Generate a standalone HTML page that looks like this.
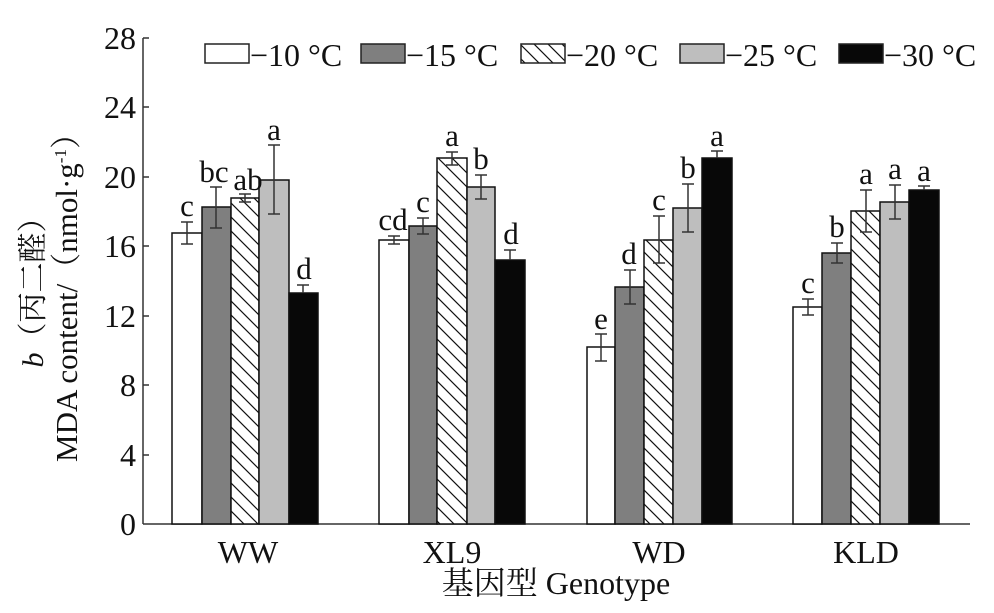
<!DOCTYPE html>
<html><head><meta charset="utf-8"><style>
body{margin:0;background:#fff}
text{font-family:"Liberation Serif","Noto Serif CJK SC",serif;fill:#111}
</style></head><body>
<svg width="994" height="608" viewBox="0 0 994 608" xmlns="http://www.w3.org/2000/svg">
<defs><pattern id="h" patternUnits="userSpaceOnUse" width="14" height="14">
<rect width="14" height="14" fill="#fff"/><path d="M0,0 L14,14 M-7,7 L7,21 M7,-7 L21,7" stroke="#111" stroke-width="1.2"/></pattern></defs>
<g stroke="#333" stroke-width="1.5">
<line x1="143" y1="38" x2="143" y2="524"/><line x1="143" y1="524" x2="970" y2="524"/>
<line x1="143" y1="38" x2="149" y2="38"/><line x1="143" y1="107" x2="149" y2="107"/><line x1="143" y1="177" x2="149" y2="177"/><line x1="143" y1="246" x2="149" y2="246"/><line x1="143" y1="316" x2="149" y2="316"/><line x1="143" y1="385" x2="149" y2="385"/><line x1="143" y1="455" x2="149" y2="455"/>
</g>
<g font-size="32" text-anchor="end">
<text x="136" y="49">28</text><text x="136" y="118">24</text><text x="136" y="188">20</text><text x="136" y="257">16</text><text x="136" y="327">12</text><text x="136" y="396">8</text><text x="136" y="466">4</text><text x="136" y="535">0</text>
</g>
<g stroke="#111" stroke-width="1.5">
<rect x="172" y="233" width="30" height="291" fill="#fff"/><rect x="202" y="207" width="29" height="317" fill="#7f7f7f"/><rect x="231" y="198" width="28" height="326" fill="url(#h)"/><rect x="259" y="180" width="30" height="344" fill="#bebebe"/><rect x="289" y="293" width="29" height="231" fill="#080808"/>
<rect x="379" y="240" width="30" height="284" fill="#fff"/><rect x="409" y="226" width="28" height="298" fill="#7f7f7f"/><rect x="437" y="158" width="30" height="366" fill="url(#h)"/><rect x="467" y="187" width="28" height="337" fill="#bebebe"/><rect x="495" y="260" width="30" height="264" fill="#080808"/>
<rect x="587" y="347" width="28" height="177" fill="#fff"/><rect x="615" y="287" width="29" height="237" fill="#7f7f7f"/><rect x="644" y="240" width="29" height="284" fill="url(#h)"/><rect x="673" y="208" width="29" height="316" fill="#bebebe"/><rect x="702" y="158" width="30" height="366" fill="#080808"/>
<rect x="793" y="307" width="29" height="217" fill="#fff"/><rect x="822" y="253" width="29" height="271" fill="#7f7f7f"/><rect x="851" y="211" width="29" height="313" fill="url(#h)"/><rect x="880" y="202" width="29" height="322" fill="#bebebe"/><rect x="909" y="190" width="30" height="334" fill="#080808"/>
</g>
<g stroke="#333" stroke-width="1.5" fill="none">
<path d="M187,222V244M181,222h12M181,244h12"/><path d="M216,187V228M210,187h12M210,228h12"/><path d="M245,194V202M239,194h12M239,202h12"/><path d="M274,145V214M268,145h12M268,214h12"/><path d="M303,285V293M297,285h12"/>
<path d="M394,236V244M388,236h12M388,244h12"/><path d="M423,218V234M417,218h12M417,234h12"/><path d="M452,152V165M446,152h12M446,165h12"/><path d="M481,175V199M475,175h12M475,199h12"/><path d="M510,250V260M504,250h12"/>
<path d="M601,334V361M595,334h12M595,361h12"/><path d="M630,270V304M624,270h12M624,304h12"/><path d="M659,216V263M653,216h12M653,263h12"/><path d="M688,184V232M682,184h12M682,232h12"/><path d="M717,151V158M711,151h12"/>
<path d="M808,299V315M802,299h12M802,315h12"/><path d="M837,243V263M831,243h12M831,263h12"/><path d="M866,190V232M860,190h12M860,232h12"/><path d="M895,185V219M889,185h12M889,219h12"/><path d="M924,186V190M918,186h12"/>
</g>
<g font-size="31" text-anchor="middle">
<text x="187" y="216">c</text><text x="214" y="182">bc</text><text x="248" y="190">ab</text><text x="274" y="140">a</text><text x="304" y="279">d</text>
<text x="393" y="230">cd</text><text x="423" y="212">c</text><text x="452" y="146">a</text><text x="481" y="169">b</text><text x="511" y="244">d</text>
<text x="601" y="329">e</text><text x="629" y="264">d</text><text x="659" y="210">c</text><text x="688" y="178">b</text><text x="717" y="146">a</text>
<text x="808" y="293">c</text><text x="837" y="237">b</text><text x="866" y="184">a</text><text x="895" y="179">a</text><text x="924" y="181">a</text>
</g>
<g font-size="32" text-anchor="middle">
<text x="248" y="563">WW</text><text x="452" y="563">XL9</text><text x="659" y="563">WD</text><text x="866" y="563">KLD</text>
<text x="556" y="594">基因型 Genotype</text>
</g>
<g stroke="#222" stroke-width="1.5">
<rect x="205" y="44" width="44" height="19" fill="#fff"/><rect x="361" y="44" width="44" height="19" fill="#7f7f7f"/><rect x="521" y="44" width="44" height="19" fill="url(#h)"/><rect x="680" y="44" width="44" height="19" fill="#bebebe"/><rect x="839" y="44" width="44" height="19" fill="#080808"/>
</g>
<g font-size="32">
<text x="250" y="66">−10 °C</text><text x="406" y="66">−15 °C</text><text x="566" y="66">−20 °C</text><text x="725" y="66">−25 °C</text><text x="884" y="66">−30 °C</text>
</g>
<text transform="translate(43,285) rotate(-90)" font-size="30" text-anchor="middle"><tspan font-style="italic">b</tspan>（丙二醛）</text>
<text transform="translate(77,290) rotate(-90)" font-size="31" text-anchor="middle">MDA content/（nmol·g<tspan font-size="17" dy="-11">-1</tspan><tspan dy="11">）</tspan></text>
</svg>
</body></html>
